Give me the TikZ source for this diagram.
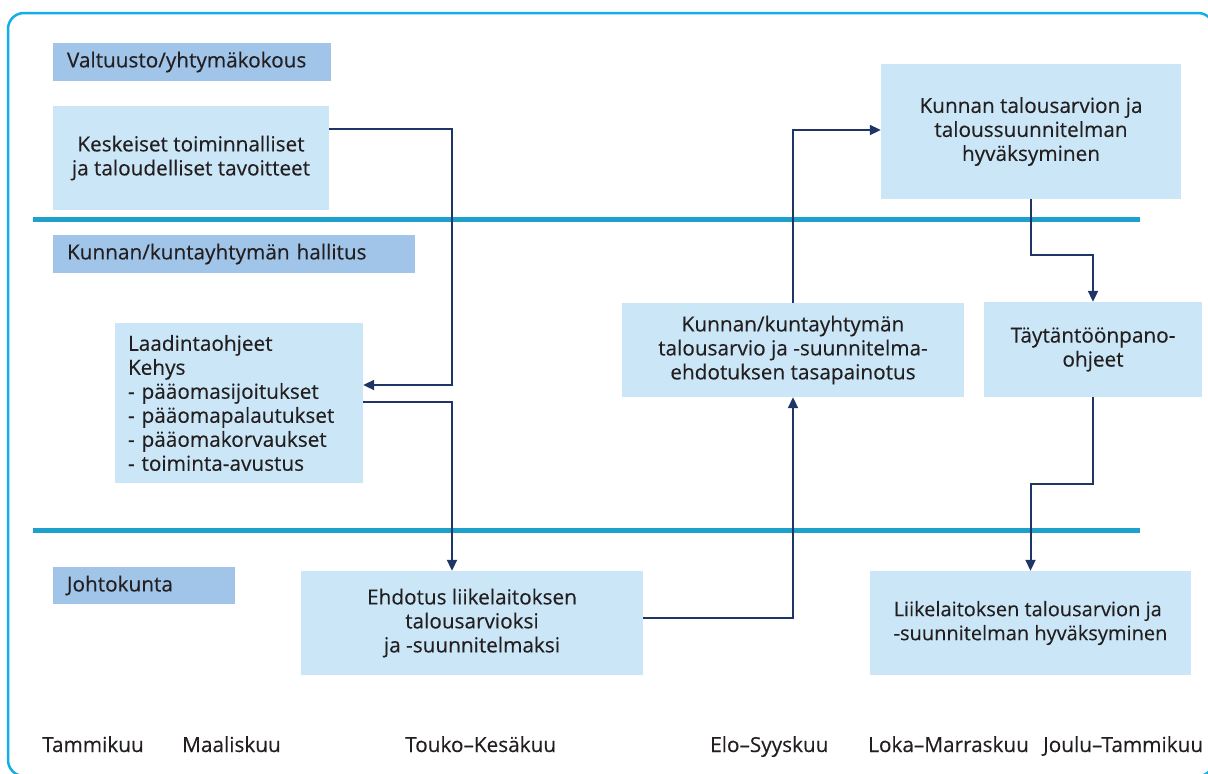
\documentclass[tikz,border=0pt]{standalone}
\usepackage{fontspec}
\setmainfont{Open Sans}[FakeBold=0.3]
\usetikzlibrary{arrows.meta}

\definecolor{framecyan}{HTML}{12AEEA}
\definecolor{rulecyan}{HTML}{1DA1CC}
\definecolor{hdrfill}{HTML}{A0C5E9}
\definecolor{boxfill}{HTML}{CBE7F7}
\definecolor{navy}{HTML}{1F3566}
\definecolor{ink}{HTML}{231F20}

\tikzset{
  every node/.style={font=\fontsize{20.75}{24}\selectfont, text=ink},
  hdr/.style={fill=hdrfill, inner xsep=14pt, inner ysep=0pt, align=left, minimum height=38pt},
  box/.style={fill=boxfill, inner sep=0pt, align=center},
  lbox/.style={fill=boxfill, inner sep=0pt, align=left},
  bandrule/.style={draw=rulecyan, line width=5pt},
  conn/.style={draw=navy, line width=2pt},
  arr/.style={conn, -{Triangle[length=11pt,width=10pt]}},
  month/.style={anchor=base west, inner sep=0pt}
}

\begin{document}
\begin{tikzpicture}[x=1pt, y=-1pt]
\useasboundingbox (0,0) rectangle (1208,774);

% outer frame
\draw[framecyan, line width=2.5pt, rounded corners=16pt] (8,13) rectangle (1214,776);

% separators between the three levels
\draw[bandrule] (33,219.5) -- (1140,219.5);
\draw[bandrule] (33,530) -- (1140,530);

% level headers
\node[hdr, text width=250pt] (valt) at (192,62) {Valtuusto/yhtymäkokous};
\node[hdr, text width=334pt] (hall) at (234,254) {Kunnan/kuntayhtymän hallitus};
\node[hdr, text width=154pt, minimum height=37pt] (johto) at (144,585.5) {Johtokunta};

% process steps
\node[box, minimum width=276pt, minimum height=104pt] (kesk) at (191,158)
  {Keskeiset toiminnalliset\\ja taloudelliset tavoitteet};
\node[lbox, minimum width=248pt, minimum height=160pt, text width=222pt, inner xsep=13pt] (laad) at (239,403)
  {\hyphenpenalty=10000 Laadintaohjeet\\Kehys\\- pääomasijoitukset\\- pääomapalautukset\\- pääomakorvaukset\\- toiminta-avustus};
\node[box, minimum width=342pt, minimum height=104pt] (ehd) at (472,623)
  {Ehdotus liikelaitoksen\\talousarvioksi\\ja -suunnitelmaksi};
\node[box, minimum width=342pt, minimum height=94pt] (tasa) at (793,350)
  {Kunnan/kuntayhtymän\\talousarvio ja -suunnitelma-\\ehdotuksen tasapainotus};
\node[box, minimum width=300pt, minimum height=135pt] (hyv) at (1031,131.5)
  {Kunnan talousarvion ja\\taloussuunnitelman\\hyväksyminen};
\node[box, minimum width=218pt, minimum height=95pt] (tayt) at (1093,349.5)
  {Täytäntöönpano-\\ohjeet};
\node[lbox, minimum width=321pt, minimum height=104pt, font=\fontsize{20}{24}\selectfont] (liik) at (1030.5,623)
  {Liikelaitoksen talousarvion ja\\-suunnitelman hyväksyminen};

% connectors
\draw[arr] ([yshift=29pt]kesk.east) -| ([xshift=89pt,yshift=18pt]laad.east) -- ([yshift=18pt]laad.east);
\draw[arr] ([yshift=1pt]laad.east) -| ([xshift=-20pt]ehd.north);
\draw[arr] ([yshift=5pt]ehd.east) -| (tasa.south);
\draw[arr] (tasa.north) |- ([yshift=1.5pt]hyv.west);
\draw[arr] (hyv.south) -- ++(0,56) -| (tayt.north);
\draw[arr] (tayt.south) -- ++(0,87) -| (liik.north);

% months along the bottom
\node[month] (m1) at (42,752) {Tammikuu};
\node[month] (m2) at (182,752) {Maaliskuu};
\node[month] (m3) at (405,752) {Touko–Kesäkuu};
\node[month] (m4) at (710,752) {Elo–Syyskuu};
\node[month] (m5) at (868,752) {Loka–Marraskuu};
\node[month] (m6) at (1043,752) {Joulu–Tammikuu};
\end{tikzpicture}
\end{document}
